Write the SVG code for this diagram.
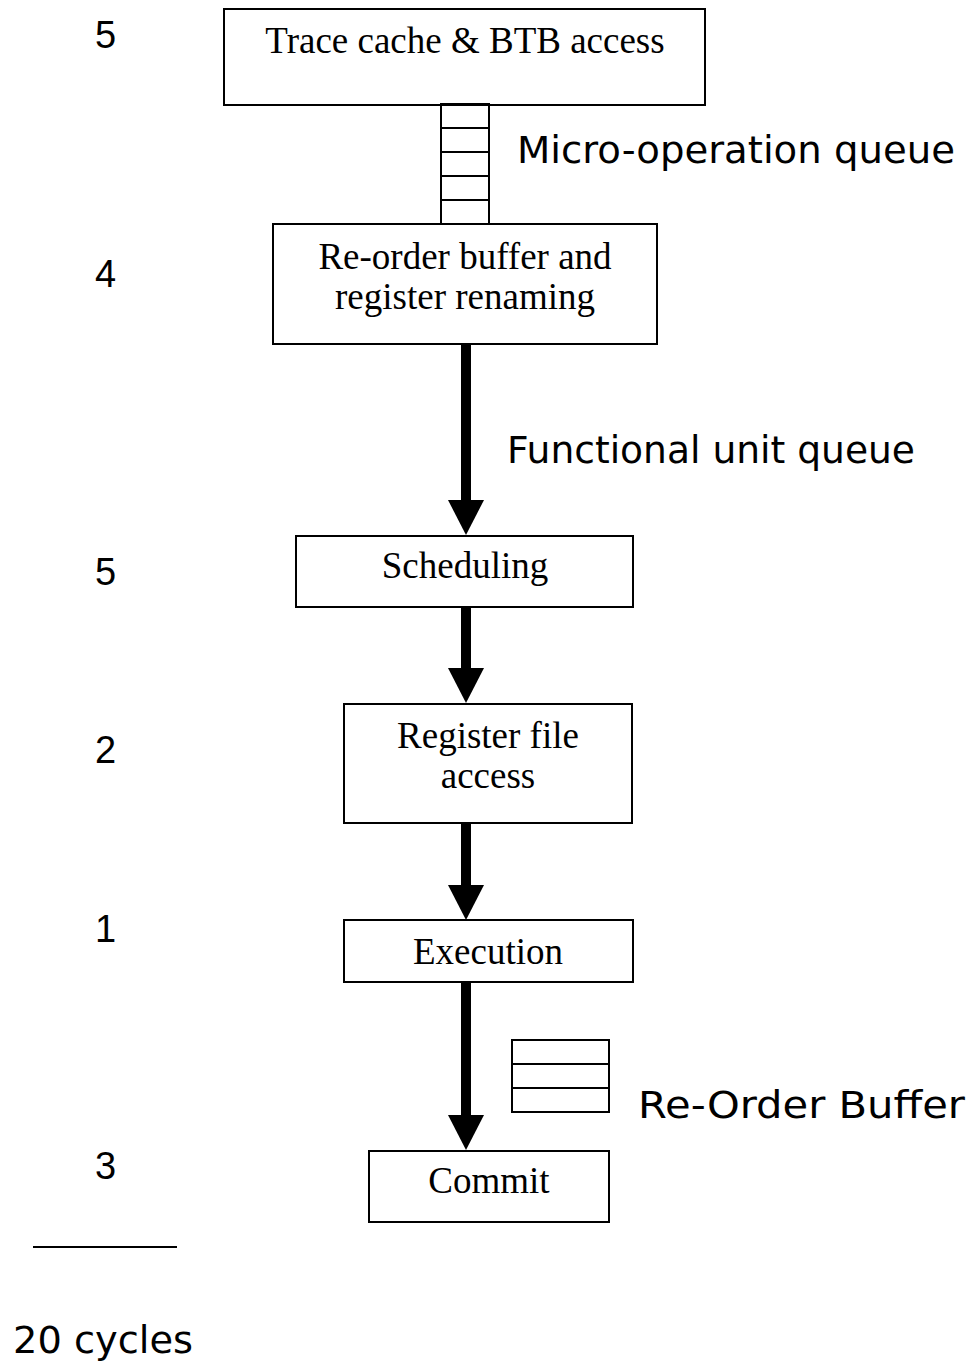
<svg xmlns="http://www.w3.org/2000/svg" width="973" height="1370" viewBox="0 0 973 1370">
  <style>
    .box { fill: #fff; stroke: #000; stroke-width: 2; }
    .slot { fill: none; stroke: #000; stroke-width: 2; }
    .lbl { font-family: "Liberation Serif", "Times New Roman", serif; font-size: 37px; fill: #000; text-anchor: middle; }
    .note { font-family: "DejaVu Sans", "Open Sans", sans-serif; font-size: 37px; fill: #000; }
    .num { font-family: "Liberation Sans", Arial, sans-serif; font-size: 38px; fill: #000; }
    .flow { stroke: #000; stroke-width: 10; fill: none; marker-end: url(#head); }
  </style>
  <defs>
    <marker id="head" viewBox="0 0 35 36" refX="0" refY="18" markerWidth="35" markerHeight="36" markerUnits="userSpaceOnUse" orient="auto">
      <path d="M0,0 L35,18 L0,36 Z" fill="#000"/>
    </marker>
  </defs>
  <rect width="973" height="1370" fill="#fff"/>

  <!-- per-stage cycle counts -->
  <g id="cycle-counts">
    <text class="num" x="95" y="48">5</text>
    <text class="num" x="95" y="287">4</text>
    <text class="num" x="95" y="585">5</text>
    <text class="num" x="95" y="763">2</text>
    <text class="num" x="95" y="942">1</text>
    <text class="num" x="95" y="1179">3</text>
    <line x1="33" y1="1247" x2="177" y2="1247" stroke="#000" stroke-width="2"/>
    <text class="note" x="13" y="1353" textLength="180" lengthAdjust="spacingAndGlyphs">20 cycles</text>
  </g>

  <!-- connectors -->
  <g id="connectors">
    <line class="flow" x1="466" y1="344" x2="466" y2="500"/>
    <line class="flow" x1="466" y1="607" x2="466" y2="668"/>
    <line class="flow" x1="466" y1="823" x2="466" y2="885"/>
    <line class="flow" x1="466" y1="982" x2="466" y2="1115"/>
  </g>

  <g id="trace-cache">
    <rect class="box" x="224" y="9" width="481" height="96"/>
    <text class="lbl" x="465" y="53">Trace cache &amp; BTB access</text>
  </g>

  <g id="uop-queue">
    <rect class="slot" x="441" y="104" width="48" height="120"/>
    <path class="slot" d="M441,128 H489 M441,152 H489 M441,176 H489 M441,200 H489"/>
    <text class="note" x="517" y="163" textLength="438" lengthAdjust="spacingAndGlyphs">Micro-operation queue</text>
  </g>

  <g id="rename">
    <rect class="box" x="273" y="224" width="384" height="120"/>
    <text class="lbl" x="465" y="269">Re-order buffer and</text>
    <text class="lbl" x="465" y="309">register renaming</text>
  </g>

  <g id="fu-queue">
    <text class="note" x="507" y="463" textLength="408" lengthAdjust="spacingAndGlyphs">Functional unit queue</text>
  </g>

  <g id="scheduling">
    <rect class="box" x="296" y="536" width="337" height="71"/>
    <text class="lbl" x="465" y="578">Scheduling</text>
  </g>

  <g id="regfile">
    <rect class="box" x="344" y="704" width="288" height="119"/>
    <text class="lbl" x="488" y="748">Register file</text>
    <text class="lbl" x="488" y="788">access</text>
  </g>

  <g id="execution">
    <rect class="box" x="344" y="920" width="289" height="62"/>
    <text class="lbl" x="488" y="964">Execution</text>
  </g>

  <g id="rob">
    <rect class="slot" x="512" y="1040" width="97" height="72"/>
    <path class="slot" d="M512,1064 H609 M512,1088 H609"/>
    <text class="note" x="638" y="1118" textLength="327" lengthAdjust="spacingAndGlyphs">Re-Order Buffer</text>
  </g>

  <g id="commit">
    <rect class="box" x="369" y="1151" width="240" height="71"/>
    <text class="lbl" x="489" y="1193">Commit</text>
  </g>
</svg>
